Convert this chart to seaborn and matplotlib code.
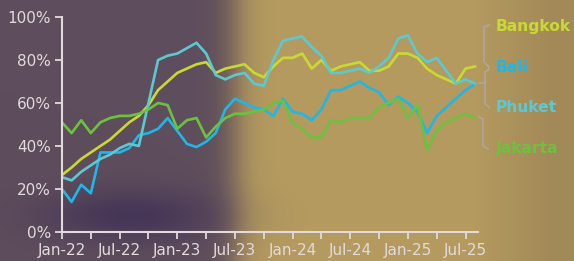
import numpy as np
import pandas as pd
import matplotlib.pyplot as plt
import seaborn as sns
from matplotlib.lines import Line2D

# monthly values, Jan-22 .. Aug-25
bangkok = [26.5, 30, 34, 37, 40, 43, 47, 51, 54, 59, 66, 70, 74, 76, 78, 79, 74, 76, 77, 78,
           74, 72, 77, 81, 81, 83, 76, 80, 75, 77, 78, 79, 75, 75, 77, 83, 83, 81, 76, 73,
           71, 69, 76, 77]
bali = [20, 14, 22, 18, 37, 37, 37, 39, 45, 46, 48, 53, 47, 41, 39.5, 42, 46, 57, 62, 60,
        58, 57, 54, 62, 56, 55, 52, 57, 66, 66, 68, 70, 67, 65, 59, 63, 60, 56, 46, 54,
        58, 62, 66, 69]
phuket = [25.5, 24, 28, 31, 34, 36, 39, 41, 40, 60, 80, 82, 83, 85.5, 88, 83, 73, 71, 73, 74,
          69, 68, 80, 89, 90, 91, 86, 82, 74, 74, 75, 76, 74, 77, 81, 90, 91.5, 83, 79, 81,
          75, 69, 71, 69]
jakarta = [51, 46, 52, 46, 51, 53, 54, 54, 55, 57, 60, 59, 48, 52, 53, 44, 49, 53, 55, 55,
           56, 57, 60, 61, 51, 48, 44, 44, 52, 51, 53, 53, 53, 58, 60, 62, 53, 59, 38, 47,
           51, 53, 55, 53]

cities = ["Bangkok", "Bali", "Phuket", "Jakarta"]
colors = ["#c8da32", "#1fb6e8", "#5cc9d2", "#6cc23e"]
x_labels = ["Jan-22", "Jul-22", "Jan-23", "Jul-23", "Jan-24", "Jul-24", "Jan-25", "Jul-25"]
y_ticks = [0, 20, 40, 60, 80, 100]

W, H = 574, 261
series = dict(zip(cities, [bangkok, bali, phuket, jakarta]))
df = pd.concat([pd.DataFrame({"month": range(len(v)), "share": v, "city": c})
                for c, v in series.items()])

fig = plt.figure(figsize=(W / 100, H / 100), dpi=100)

# blurred photo backdrop (purple on the left, tan on the right)
xx, yy = np.meshgrid(np.arange(W), np.arange(H))
t = 1 / (1 + np.exp(-(xx - 235) / 9.0))
left = np.array([94, 77, 92]) / 255
right = np.array([181, 155, 95]) / 255
img = left * (1 - t[..., None]) + right * t[..., None]
edge = (np.clip((xx - 470) / 80, 0, 1) * 0.5)[..., None]
img = img * (1 - edge) + np.array([145, 120, 82]) / 255 * edge
blob = (0.7 * np.exp(-((xx - 130) / 85.0) ** 2 - ((yy - 215) / 26.0) ** 2))[..., None]
img = img * (1 - blob) + np.array([60, 44, 84]) / 255 * blob
ax_bg = fig.add_axes([0, 0, 1, 1], zorder=-1)
ax_bg.imshow(img, aspect="auto")
ax_bg.axis("off")

ax = fig.add_axes([62 / W, 1 - 232 / H, (478 - 62) / W, (232 - 17) / H])
ax.set_facecolor("none")
sns.lineplot(data=df, x="month", y="share", hue="city", palette=colors,
             linewidth=1.9, legend=False, ax=ax)

axis_col = "#e2dadc"
ax.set_xlim(0, 43.3)
ax.set_ylim(0, 100)
ax.set_yticks(y_ticks)
ax.set_yticklabels([f"{v}%" for v in y_ticks])
ax.set_xticks(range(0, 44, 3))
ax.set_xticklabels([x_labels[i // 2] if i % 2 == 0 else "" for i in range(15)])
ax.set_xlabel("")
ax.set_ylabel("")
for s in ["top", "right"]:
    ax.spines[s].set_visible(False)
for s in ["left", "bottom"]:
    ax.spines[s].set_color(axis_col)
    ax.spines[s].set_linewidth(1.5)
ax.tick_params(colors=axis_col, labelsize=11, length=5, width=1.3, pad=3)


def px(x, y):
    return x / W, 1 - y / H


def bracket(pts):
    xs, ys = zip(*[px(x, y) for x, y in pts])
    fig.add_artist(Line2D(xs, ys, transform=fig.transFigure, color="#b0a8a8",
                          lw=1.2, alpha=0.85))


bracket([(489, 25), (484, 27), (484, 62), (489, 67)])
bracket([(489, 69), (485, 72), (485, 104), (489, 107)])
bracket([(479, 83), (485, 83)])
bracket([(479, 117), (483, 119), (483, 146), (488, 149)])

for city, col, y in zip(cities, colors, [27, 67, 107, 148]):
    fig.text(496 / W, 1 - y / H, city, color=col, fontsize=11.2, fontweight="bold",
             va="center", ha="left")

fig.savefig("out.png", dpi=100)
